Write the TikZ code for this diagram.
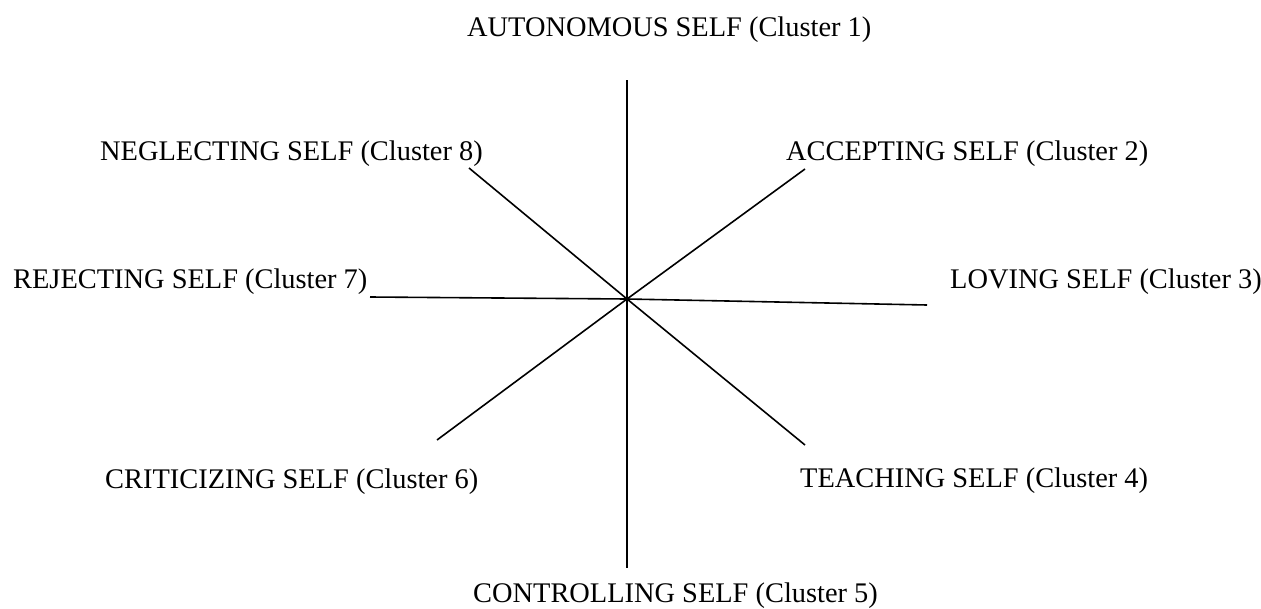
\documentclass[tikz,border=0pt]{standalone}
\usepackage{fontspec}
\setmainfont{Liberation Serif}
\begin{document}
\begin{tikzpicture}[x=1pt,y=-1pt,
  lbl/.style={anchor=base west,inner sep=0pt,font=\fontsize{28.4}{34}\selectfont},
  spoke/.style={line width=1.6pt,black}]
\useasboundingbox (0,0) rectangle (1261,608);
\coordinate (c) at (627,299);
\coordinate (e1) at (627,80);
\coordinate (e2) at (805,169);
\coordinate (e3) at (927,305);
\coordinate (e4) at (805,445);
\coordinate (e5) at (627,568);
\coordinate (e6) at (437,440);
\coordinate (e7) at (370,297);
\coordinate (e8) at (469,168);
\foreach \i in {1,...,8} {\draw[spoke] (c) -- (e\i);}
\node[lbl] (l1) at (467,36) {AUTONOMOUS SELF (Cluster 1)};
\node[lbl] (l8) at (100,160) {NEGLECTING SELF (Cluster 8)};
\node[lbl] (l2) at (786,160) {ACCEPTING SELF (Cluster 2)};
\node[lbl] (l7) at (13,288) {REJECTING SELF (Cluster 7)};
\node[lbl] (l3) at (950,288) {LOVING SELF (Cluster 3)};
\node[lbl] (l6) at (105,488) {CRITICIZING SELF (Cluster 6)};
\node[lbl] (l4) at (800,487) {TEACHING SELF (Cluster 4)};
\node[lbl] (l5) at (473,602) {CONTROLLING SELF (Cluster 5)};
\end{tikzpicture}
\end{document}
